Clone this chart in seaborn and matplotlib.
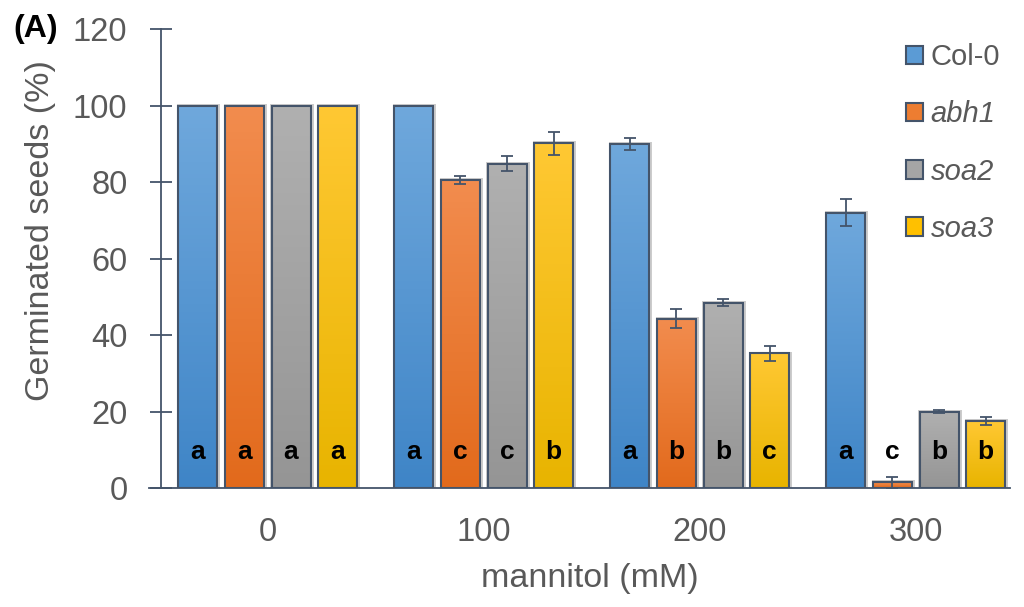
import numpy as np
import pandas as pd
import matplotlib
matplotlib.use('Agg')
import matplotlib.pyplot as plt
import seaborn as sns
from matplotlib.colors import LinearSegmentedColormap

# Germination under mannitol
mannitol = ['0', '100', '200', '300']
genotypes = ['Col-0', 'abh1', 'soa2', 'soa3']
col0 = [100, 100, 90, 72]
abh1 = [100, 80.5, 44.3, 1.5]
soa2 = [100, 84.8, 48.5, 20]
soa3 = [100, 90.2, 35.2, 17.5]
col0_err = [0, 0, 1.5, 3.5]
abh1_err = [0, 1.0, 2.5, 1.5]
soa2_err = [0, 2.0, 1.0, 0.3]
soa3_err = [0, 3.0, 2.0, 1.0]
letters = [['a', 'a', 'a', 'a'],      # per mannitol level, in genotype order
           ['a', 'c', 'c', 'b'],
           ['a', 'b', 'b', 'c'],
           ['a', 'c', 'b', 'b']]

colors = ['#5B9BD5', '#ED7D31', '#A5A5A5', '#FFC000']
tops = ['#6FA8DC', '#F28C4E', '#B0B0B0', '#FFC833']
bottoms = ['#3F85C7', '#E26A1C', '#959595', '#E8B400']
edge = '#44546A'
txt = '#595959'

vals = [col0, abh1, soa2, soa3]
errs = [col0_err, abh1_err, soa2_err, soa3_err]
df = pd.DataFrame({
    'mannitol': np.repeat([mannitol], 4, axis=0).ravel(),
    'genotype': np.repeat(genotypes, 4),
    'germ': np.ravel(vals),
    'err': np.ravel(errs),
})

plt.rcParams['font.family'] = ['Liberation Sans', 'DejaVu Sans']
fig = plt.figure(figsize=(10.24, 6.07), dpi=100)
ax = fig.add_axes([0.157, 0.196, 0.829, 0.756])

sns.barplot(data=df, x='mannitol', y='germ', hue='genotype', order=mannitol,
            hue_order=genotypes, palette=colors, width=0.864, gap=0.164,
            edgecolor=edge, linewidth=1.5, errorbar=None, legend=False, ax=ax, zorder=3)

bar_conts = list(ax.containers)
# gradient fill + soft shadow for each bar, error bars and letters
for gi, cont in enumerate(bar_conts):
    cmap = LinearSegmentedColormap.from_list('g', [bottoms[gi], tops[gi]])
    for mi, p in enumerate(cont.patches):
        x0, w, h = p.get_x(), p.get_width(), p.get_height()
        sh = plt.Rectangle((x0 - 0.006, 0), w + 0.02, h + 0.5, color='#C4C4C4',
                           alpha=0.85, zorder=2, lw=0)
        ax.add_patch(sh)
        grad = np.linspace(0, 1, 100).reshape(-1, 1)
        im = ax.imshow(grad, cmap=cmap, origin='lower', aspect='auto',
                       extent=(x0, x0 + w, 0, h), zorder=3.5)
        im.set_clip_path(p)
        p.set_facecolor('none')
        p.set_zorder(4)
        e = errs[gi][mi]
        if e > 0:
            ax.errorbar(x0 + w / 2, h, yerr=e, fmt='none', ecolor=edge,
                        elinewidth=1.3, capsize=4.5, capthick=1.3, zorder=5)
        ax.text(x0 + w / 2, 9.3, letters[mi][gi], ha='center', va='center',
                fontsize=19, fontweight='bold', color='black', zorder=6)

ax.set_xlim(-0.495, 3.435)
ax.set_ylim(0, 120)
ax.set_yticks(range(0, 121, 20))
ax.tick_params(axis='y', direction='inout', length=16, width=1.3, color=edge,
               labelsize=23.5, labelcolor=txt, pad=16)
ax.tick_params(axis='x', length=0, labelsize=23.5, labelcolor=txt, pad=21)
ax.set_xlabel('mannitol (mM)', fontsize=24.5, color=txt, va='top')
ax.xaxis.set_label_coords(0.506, -0.163)
ax.set_ylabel('Germinated seeds (%)', fontsize=24.5, color=txt)
ax.yaxis.set_label_coords(-0.124, 0.56)
for s in ['top', 'right']:
    ax.spines[s].set_visible(False)
for s in ['left', 'bottom']:
    ax.spines[s].set_color(edge)
    ax.spines[s].set_linewidth(1.3)
ax.spines['bottom'].set_bounds(-0.55, 3.435)
ax.spines['bottom'].set_clip_on(False)

handles = [plt.Rectangle((0, 0), 1, 1, facecolor=c, edgecolor=edge, lw=1.5) for c in colors]
leg = fig.legend(handles, genotypes, loc='upper left', bbox_to_anchor=(0.859, 0.972),
                 frameon=False, fontsize=21, handlelength=0.6, handleheight=0.6,
                 handletextpad=0.25, labelspacing=1.0, labelcolor=txt)
for t in leg.get_texts()[1:]:
    t.set_fontstyle('italic')

fig.text(0.013, 0.952, '(A)', fontsize=23, fontweight='bold', color='black', va='center')

fig.savefig('out.png', dpi=100)
